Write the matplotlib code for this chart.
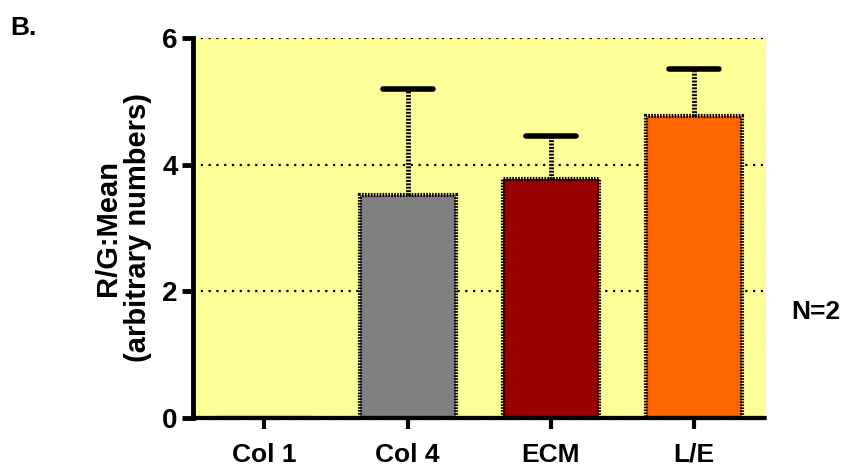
import numpy as np
import matplotlib.pyplot as plt

plt.rcParams['font.family'] = ['Liberation Sans', 'DejaVu Sans']
plt.rcParams['font.weight'] = 'bold'

# data
groups = ['Col 1', 'Col 4', 'ECM', 'L/E']
means = [0.0, 3.52, 3.78, 4.77]
err_up = [0.0, 1.68, 0.67, 0.74]
bar_colors = ['#808080', '#808080', '#990000', '#FF6600']
y_ticks = [0, 2, 4, 6]

fig = plt.figure(figsize=(8.46, 4.70), dpi=100)
ax = fig.add_axes([0.228, 0.111, 0.677, 0.808])
ax.set_facecolor('#FFFF99')

x = np.arange(len(groups))

# dotted grid lines
for yv in y_ticks[1:]:
    ax.axhline(yv, color='black', ls=(0, (1, 2.5)), lw=1.6, zorder=1)

bars = ax.bar(x, means, width=0.67, color=bar_colors, edgecolor='black',
              linewidth=3, linestyle=(0, (0.4, 0.3)), zorder=2)

# error bars: dotted stem, solid cap
for xi, m, e in zip(x, means, err_up):
    if e <= 0:
        continue
    ax.plot([xi, xi], [m, m + e], color='black', lw=3.5,
            ls=(0, (0.4, 0.3)), zorder=3)
    ax.plot([xi - 0.175, xi + 0.175], [m + e, m + e], color='black', lw=4,
            solid_capstyle='round', zorder=3)

ax.set_xlim(-0.5, 3.5)
ax.set_ylim(0, 6)
ax.set_yticks(y_ticks)
ax.set_xticks(x)
ax.set_xticklabels(groups, fontsize=19, fontweight='bold')
ax.set_yticklabels([str(t) for t in y_ticks], fontsize=20, fontweight='bold')

for s in ['top', 'right']:
    ax.spines[s].set_visible(False)
ax.spines['left'].set_linewidth(3.5)
ax.spines['bottom'].set_linewidth(3)
ax.spines['bottom'].set_linestyle((0, (0.4, 0.4)))
ax.tick_params(axis='y', width=3.5, length=8, pad=3)
ax.tick_params(axis='x', width=3, length=8, pad=10)

ax.set_ylabel('R/G:Mean\n(arbitrary numbers)', fontsize=21,
              fontweight='bold', labelpad=7, linespacing=1.1)

fig.text(0.012, 0.925, 'B.', fontsize=19, fontweight='bold')
fig.text(0.935, 0.336, 'N=2', fontsize=19, fontweight='bold', va='center')

fig.savefig('out.png', dpi=100)
